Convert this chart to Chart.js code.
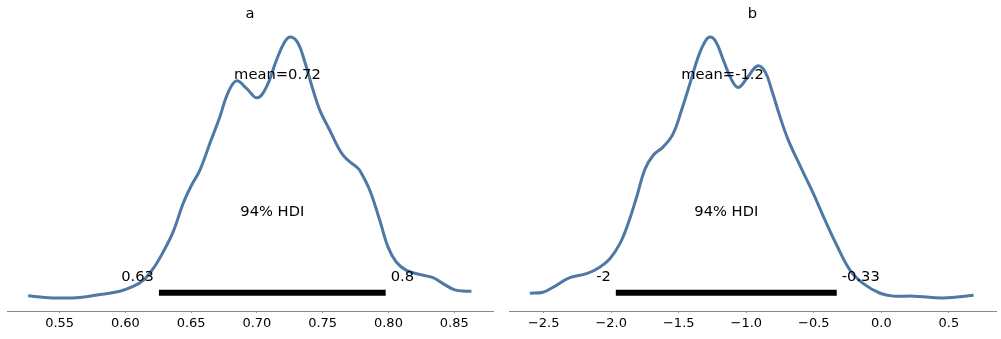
<!DOCTYPE html>
<html>
<head>
<meta charset="utf-8">
<script src="https://cdn.jsdelivr.net/npm/chart.js@4"></script>
<style>
  body { margin: 0; background: #fff; }
  .panel { position: absolute; top: 0; height: 339px; }
</style>
</head>
<body>
<div class="panel" style="left:0;width:500px"><canvas id="chartA"></canvas></div>
<div class="panel" style="left:500px;width:501px"><canvas id="chartB"></canvas></div>
<script>
// panel a: posterior density of "a" (scaled so the peak is 1)
let aX = [0.5261, 0.5388, 0.5502, 0.5654, 0.5806, 0.5958, 0.6059, 0.6135, 0.6211, 0.6287,
  0.6363, 0.6439, 0.6503, 0.6566, 0.6642, 0.6718, 0.6779, 0.6845, 0.6921, 0.7002,
  0.7073, 0.7149, 0.7212, 0.7258, 0.7313, 0.7364, 0.7427, 0.7478, 0.7554, 0.7655,
  0.7757, 0.7782, 0.7858, 0.7934, 0.7997, 0.8061, 0.8137, 0.8238, 0.8339, 0.8415,
  0.8504, 0.8593, 0.8631];
let aDensity = [0.008, 0.002, 0.0, 0.002, 0.013, 0.026, 0.044, 0.067, 0.112, 0.176,
  0.253, 0.362, 0.432, 0.489, 0.592, 0.694, 0.785, 0.832, 0.803, 0.767,
  0.809, 0.912, 0.982, 1.0, 0.976, 0.905, 0.797, 0.72, 0.643, 0.547,
  0.502, 0.489, 0.413, 0.298, 0.195, 0.137, 0.106, 0.09, 0.078, 0.055,
  0.031, 0.026, 0.026];
let aHdi = [0.6255, 0.7979];
let aHdiLabels = ['0.63', '0.8'];
let aMean = 0.7156;
let aMeanLabel = 'mean=0.72';
let aTicks = [0.55, 0.60, 0.65, 0.70, 0.75, 0.80, 0.85];
let aTickLabels = ['0.55', '0.60', '0.65', '0.70', '0.75', '0.80', '0.85'];

// panel b
let bX = [-2.603, -2.505, -2.431, -2.307, -2.183, -2.085, -2.010, -1.936, -1.875, -1.812,
  -1.751, -1.689, -1.615, -1.541, -1.479, -1.417, -1.356, -1.306, -1.269, -1.225,
  -1.170, -1.108, -1.059, -0.997, -0.918, -0.861, -0.812, -0.750, -0.689, -0.589,
  -0.503, -0.417, -0.330, -0.231, -0.133, -0.009, 0.090, 0.238, 0.460, 0.683];
let bDensity = [0.018, 0.022, 0.041, 0.078, 0.093, 0.118, 0.15, 0.208, 0.285, 0.387,
  0.493, 0.547, 0.579, 0.63, 0.72, 0.822, 0.924, 0.982, 1.0, 0.982,
  0.912, 0.835, 0.807, 0.841, 0.889, 0.867, 0.797, 0.694, 0.605, 0.493,
  0.4, 0.298, 0.202, 0.106, 0.055, 0.018, 0.007, 0.007, 0.0, 0.01];
let bHdi = [-1.966, -0.330];
let bHdiLabels = ['-2', '-0.33'];
let bMean = -1.176;
let bMeanLabel = 'mean=-1.2';
let bTicks = [-2.5, -2.0, -1.5, -1.0, -0.5, 0.0, 0.5];
let bTickLabels = ['\u22122.5', '\u22122.0', '\u22121.5', '\u22121.0', '\u22120.5', '0.0', '0.5'];

let lineColor = '#4e79a7';
let fontFamily = "'DejaVu Sans', sans-serif";

// text placed in data coordinates, like the matplotlib annotations
let textPlugin = {
    id: 'posteriorText',
    afterDatasetsDraw(chart, args, opts) {
        let ctx = chart.ctx;
        let x = chart.scales.x;
        let y = chart.scales.y;
        let area = chart.chartArea;
        ctx.save();
        ctx.fillStyle = '#000';
        ctx.font = '14.7px ' + fontFamily;
        ctx.textBaseline = 'middle';

        ctx.textAlign = 'center';
        ctx.fillText(opts.title, (area.left + area.right) / 2, 14);
        ctx.fillText(opts.meanLabel, x.getPixelForValue(opts.mean), y.getPixelForValue(0.852));
        ctx.fillText('94% HDI', x.getPixelForValue((opts.hdi[0] + opts.hdi[1]) / 2), y.getPixelForValue(0.329));

        ctx.textAlign = 'right';
        ctx.fillText(opts.hdiLabels[0], x.getPixelForValue(opts.hdi[0]) - 5, y.getPixelForValue(0.08));
        ctx.textAlign = 'left';
        ctx.fillText(opts.hdiLabels[1], x.getPixelForValue(opts.hdi[1]) + 5, y.getPixelForValue(0.08));
        ctx.restore();
    }
};

function drawPanel(canvasId, cfg) {
    let ctx = document.getElementById(canvasId).getContext('2d');
    let points = cfg.xs.map((v, i) => ({ x: v, y: cfg.density[i] }));

    return new Chart(ctx, {
        type: 'line',
        data: {
            datasets: [{
                data: points,
                borderColor: lineColor,
                borderWidth: 3,
                pointRadius: 0,
                tension: 0.4,
                fill: false
            }, {
                data: [{ x: cfg.hdi[0], y: 0.02 }, { x: cfg.hdi[1], y: 0.02 }],
                borderColor: '#000',
                borderWidth: 6,
                borderCapStyle: 'butt',
                pointRadius: 0,
                fill: false
            }]
        },
        options: {
            responsive: true,
            maintainAspectRatio: false,
            animation: false,
            events: [],
            layout: { padding: cfg.padding },
            plugins: {
                legend: { display: false },
                tooltip: { enabled: false },
                posteriorText: {
                    title: cfg.title,
                    mean: cfg.mean,
                    meanLabel: cfg.meanLabel,
                    hdi: cfg.hdi,
                    hdiLabels: cfg.hdiLabels
                }
            },
            scales: {
                x: {
                    type: 'linear',
                    min: cfg.min,
                    max: cfg.max,
                    grid: {
                        display: true,
                        drawOnChartArea: false,
                        drawTicks: true,
                        tickLength: 2,
                        color: '#999'
                    },
                    border: { display: true, color: '#888', width: 1 },
                    afterBuildTicks: (scale) => {
                        scale.ticks = cfg.ticks.map(v => ({ value: v }));
                    },
                    afterFit: (scale) => { scale.height = 28; },
                    ticks: {
                        padding: 3,
                        maxRotation: 0,
                        autoSkip: false,
                        color: '#000',
                        font: { family: fontFamily, size: 13 },
                        callback: (value) => {
                            let i = cfg.ticks.findIndex(t => Math.abs(t - value) < 1e-9);
                            return i >= 0 ? cfg.tickLabels[i] : '';
                        }
                    }
                },
                y: {
                    display: false,
                    min: -0.05,
                    max: 1.05
                }
            }
        },
        plugins: [textPlugin]
    });
}

drawPanel('chartA', {
    xs: aX, density: aDensity, hdi: aHdi, hdiLabels: aHdiLabels,
    mean: aMean, meanLabel: aMeanLabel, title: 'a',
    ticks: aTicks, tickLabels: aTickLabels,
    min: 0.510, max: 0.8795,
    padding: { left: 7, right: 7, top: 24, bottom: 0 }
});

drawPanel('chartB', {
    xs: bX, density: bDensity, hdi: bHdi, hdiLabels: bHdiLabels,
    mean: bMean, meanLabel: bMeanLabel, title: 'b',
    ticks: bTicks, tickLabels: bTickLabels,
    min: -2.757, max: 0.849,
    padding: { left: 9, right: 5, top: 24, bottom: 0 }
});
</script>
</body>
</html>
